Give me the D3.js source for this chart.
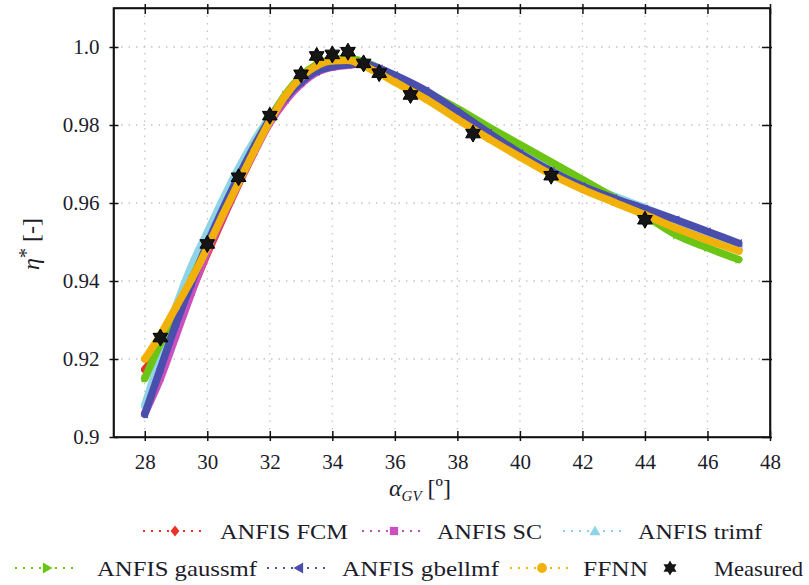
<!DOCTYPE html>
<html lang="en">
<head>
<meta charset="UTF-8">
<title>eta vs alpha</title>
<style>
  body { margin: 0; background: #fff; }
  svg text { font-family: "Liberation Serif", "Times New Roman", Times, "DejaVu Serif", serif; fill: #1c1c2a; }
</style>
</head>
<body>
<script src="https://cdn.jsdelivr.net/npm/d3@7"></script>
<script>
// guide vane angle [deg] where the model curves are read
var alpha = [28, 28.5, 29, 29.5, 30, 30.5, 31, 31.5, 32, 32.5, 33, 33.5, 34, 34.5, 35, 35.5, 36, 37, 38, 39, 40, 41, 42, 43, 44, 45, 46, 47];

// model predictions
var anfisFCM = [0.9173, 0.9225, 0.9295, 0.9375, 0.9470, 0.9560, 0.9648, 0.9730, 0.9810, 0.9872, 0.9918, 0.9950, 0.9965, 0.9968, 0.9960, 0.9945, 0.9925, 0.9882, 0.9832, 0.9778, 0.9725, 0.9678, 0.9638, 0.9605, 0.9575, 0.9545, 0.9510, 0.9480];
var anfisSC = [0.9060, 0.9150, 0.9260, 0.9370, 0.9475, 0.9565, 0.9650, 0.9730, 0.9805, 0.9862, 0.9905, 0.9935, 0.9948, 0.9953, 0.9957, 0.9945, 0.9925, 0.9885, 0.9832, 0.9778, 0.9726, 0.9680, 0.9640, 0.9610, 0.9580, 0.9550, 0.9520, 0.9490];
var anfisTrimf = [0.9081, 0.9210, 0.9335, 0.9440, 0.9525, 0.9610, 0.9690, 0.9760, 0.9820, 0.9875, 0.9920, 0.9952, 0.9967, 0.9970, 0.9962, 0.9945, 0.9922, 0.9878, 0.9830, 0.9780, 0.9732, 0.9688, 0.9650, 0.9618, 0.9588, 0.9555, 0.9525, 0.9492];
var anfisGauss = [0.9150, 0.9240, 0.9318, 0.9405, 0.9490, 0.9580, 0.9665, 0.9745, 0.9815, 0.9878, 0.9925, 0.9955, 0.9968, 0.9970, 0.9962, 0.9945, 0.9925, 0.9885, 0.9842, 0.9795, 0.9750, 0.9705, 0.9660, 0.9615, 0.9568, 0.9518, 0.9485, 0.9455];
var anfisGbell = [0.9058, 0.9175, 0.9290, 0.9395, 0.9495, 0.9585, 0.9668, 0.9745, 0.9815, 0.9870, 0.9910, 0.9938, 0.9950, 0.9955, 0.9957, 0.9945, 0.9928, 0.9888, 0.9835, 0.9780, 0.9728, 0.9682, 0.9643, 0.9612, 0.9585, 0.9557, 0.9527, 0.9497];
var ffnn = [0.9200, 0.9262, 0.9333, 0.9405, 0.9485, 0.9570, 0.9652, 0.9733, 0.9810, 0.9875, 0.9922, 0.9952, 0.9965, 0.9966, 0.9952, 0.9932, 0.9910, 0.9866, 0.9815, 0.9765, 0.9718, 0.9673, 0.9635, 0.9602, 0.9570, 0.9535, 0.9505, 0.9477];

// measured points
var measuredX = [28.5, 30, 31, 32, 33, 33.5, 34, 34.5, 35, 35.5, 36.5, 38.5, 41, 44];
var measuredY = [0.9255, 0.9495, 0.9666, 0.9824, 0.9930, 0.9977, 0.9981, 0.9988, 0.9958, 0.9933, 0.9877, 0.9778, 0.9670, 0.9557];

var seriesNames = ['ANFIS FCM', 'ANFIS SC', 'ANFIS trimf', 'ANFIS gaussmf', 'ANFIS gbellmf', 'FFNN', 'Measured'];
var seriesValues = [anfisFCM, anfisSC, anfisTrimf, anfisGauss, anfisGbell, ffnn];

var xTicks = [28, 30, 32, 34, 36, 38, 40, 42, 44, 46, 48];
var yTicks = [0.9, 0.92, 0.94, 0.96, 0.98, 1.0];
var yTickLabels = ['0.9', '0.92', '0.94', '0.96', '0.98', '1.0'];

// styles
var colors = ['#e8322a', '#cc4fc0', '#8fd3e6', '#6cc514', '#4a4fae', '#f2b10a'];
var shapes = ['diamond', 'square', 'triUp', 'triRight', 'triLeft', 'circle'];

// legend layout: row y, line start, text start, text width
var legendLayout = [
    { y: 531, lx: 143, tx: 220, w: 128 },
    { y: 531, lx: 362, tx: 437, w: 105 },
    { y: 531, lx: 563, tx: 638, w: 124 },
    { y: 568, lx: 15, tx: 97, w: 160 },
    { y: 568, lx: 267, tx: 342, w: 157 },
    { y: 568, lx: 510, tx: 583, w: 65 },
    { y: 568, lx: 660, tx: 714, w: 89 }
];

var W = 809, H = 585;
var plot = { left: 113.5, right: 770, top: 8, bottom: 437 };

var svg = d3.select('body').append('svg').attr('width', W).attr('height', H);

var x = d3.scaleLinear().domain([27, 48]).range([plot.left, plot.right]);
var y = d3.scaleLinear().domain([0.9, 1.01]).range([plot.bottom, plot.top]);

// marker path at origin
function markerPath(shape, s) {
    if (shape === 'diamond') return 'M0,' + (-s) + 'L' + s * 0.8 + ',0L0,' + s + 'L' + (-s * 0.8) + ',0Z';
    if (shape === 'square') return 'M' + (-s * 0.75) + ',' + (-s * 0.75) + 'h' + s * 1.5 + 'v' + s * 1.5 + 'h' + (-s * 1.5) + 'Z';
    if (shape === 'triUp') return 'M0,' + (-s) + 'L' + s + ',' + s * 0.75 + 'L' + (-s) + ',' + s * 0.75 + 'Z';
    if (shape === 'triRight') return 'M' + s + ',0L' + (-s * 0.75) + ',' + (-s) + 'L' + (-s * 0.75) + ',' + s + 'Z';
    if (shape === 'triLeft') return 'M' + (-s) + ',0L' + s * 0.75 + ',' + (-s) + 'L' + s * 0.75 + ',' + s + 'Z';
    return d3.symbol().type(d3.symbolCircle).size(Math.PI * s * s * 0.8)();
}
// six pointed star
function starPath(r) {
    var pts = [];
    for (var i = 0; i < 12; i++) {
        var a = -Math.PI / 2 + i * Math.PI / 6;
        var rr = i % 2 === 0 ? r : r / Math.sqrt(3);
        pts.push([rr * Math.cos(a), rr * Math.sin(a)]);
    }
    return 'M' + pts.map(function (p) { return p[0].toFixed(2) + ',' + p[1].toFixed(2); }).join('L') + 'Z';
}

// grid
var grid = svg.append('g').attr('stroke', '#c4c4c4').attr('stroke-width', 1.3).attr('stroke-dasharray', '1.5,6');
grid.selectAll('.gx').data(xTicks.slice(0, -1)).enter().append('line')
    .attr('x1', function (d) { return x(d); }).attr('x2', function (d) { return x(d); })
    .attr('y1', plot.top).attr('y2', plot.bottom);
grid.selectAll('.gy').data(yTicks.slice(1)).enter().append('line')
    .attr('y1', function (d) { return y(d); }).attr('y2', function (d) { return y(d); })
    .attr('x1', plot.left).attr('x2', plot.right);

// model curves
var line = d3.line()
    .x(function (d) { return x(d[0]); })
    .y(function (d) { return y(d[1]); })
    .curve(d3.curveMonotoneX);

seriesValues.forEach(function (vals, i) {
    var pts = alpha.map(function (a, j) { return [a, vals[j]]; });
    var g = svg.append('g');
    g.append('path').datum(pts).attr('d', line)
        .attr('fill', 'none').attr('stroke', colors[i]).attr('stroke-width', 7.5)
        .attr('stroke-linejoin', 'round').attr('stroke-linecap', 'round');
    g.selectAll('path.m').data(pts).enter().append('path').attr('class', 'm')
        .attr('d', markerPath(shapes[i], 4.2))
        .attr('transform', function (d) { return 'translate(' + x(d[0]) + ',' + y(d[1]) + ')'; })
        .attr('fill', colors[i]);
});

// measured stars
svg.append('g').selectAll('path').data(measuredX).enter().append('path')
    .attr('d', starPath(8.5))
    .attr('transform', function (d, i) { return 'translate(' + x(d) + ',' + y(measuredY[i]) + ')'; })
    .attr('fill', '#151515').attr('stroke', '#000').attr('stroke-width', 1);

// axes
var axBottom = svg.append('g').attr('transform', 'translate(0,' + plot.bottom + ')')
    .call(d3.axisBottom(x).tickValues(xTicks).tickFormat(d3.format('d')).tickSizeInner(4).tickSizeOuter(0).tickPadding(13));
var axTop = svg.append('g').attr('transform', 'translate(0,' + plot.top + ')')
    .call(d3.axisTop(x).tickValues(xTicks).tickFormat('').tickSizeInner(4).tickSizeOuter(0));
var axLeft = svg.append('g').attr('transform', 'translate(' + plot.left + ',0)')
    .call(d3.axisLeft(y).tickValues(yTicks).tickFormat(function (d, i) { return yTickLabels[i]; }).tickSizeInner(4).tickSizeOuter(0).tickPadding(10));
var axRight = svg.append('g').attr('transform', 'translate(' + plot.right + ',0)')
    .call(d3.axisRight(y).tickValues(yTicks).tickFormat('').tickSizeInner(2).tickSizeOuter(0));

// ticks cross the frame
axBottom.selectAll('.tick line').attr('y1', -6);
axTop.selectAll('.tick line').attr('y1', 6);
axLeft.selectAll('.tick line').attr('x1', 5);
axRight.selectAll('.tick line').attr('x1', -8);

[axBottom, axTop, axLeft, axRight].forEach(function (ax) {
    ax.attr('font-family', null);
    ax.select('.domain').attr('stroke', '#111').attr('stroke-width', 1.6);
    ax.selectAll('.tick line').attr('stroke', '#111').attr('stroke-width', 1.5);
    ax.selectAll('.tick text').attr('font-size', 21).attr('fill', '#1c1c2a');
});
// full frame lines
svg.append('rect').attr('x', plot.left).attr('y', plot.top)
    .attr('width', plot.right - plot.left).attr('height', plot.bottom - plot.top)
    .attr('fill', 'none').attr('stroke', '#111').attr('stroke-width', 1.6);

// axis titles
var xt = svg.append('text').attr('x', 420).attr('y', 496).attr('text-anchor', 'middle').attr('font-size', 24);
xt.append('tspan').attr('font-style', 'italic').text('α');
xt.append('tspan').attr('font-style', 'italic').attr('font-size', 15).attr('dy', 5).text('GV');
xt.append('tspan').attr('dy', -5).text(' [º]');

var yt = svg.append('text').attr('transform', 'translate(39,244) rotate(-90)').attr('text-anchor', 'middle').attr('font-size', 24);
yt.append('tspan').attr('font-style', 'italic').text('η');
yt.append('tspan').attr('dy', -6).attr('font-size', 20).text('*');
yt.append('tspan').attr('dy', 6).text(' [-]');

// legend
legendLayout.forEach(function (L, k) {
    var g = svg.append('g');
    if (k < 6) {
        g.append('line').attr('x1', L.lx).attr('x2', L.lx + 60).attr('y1', L.y).attr('y2', L.y)
            .attr('stroke', colors[k]).attr('stroke-width', 2).attr('stroke-dasharray', '2,6');
        g.append('path').attr('d', markerPath(shapes[k], 5.5))
            .attr('transform', 'translate(' + (L.lx + 32) + ',' + L.y + ')').attr('fill', colors[k]);
    } else {
        g.append('path').attr('d', starPath(7.5))
            .attr('transform', 'translate(' + (L.lx + 10) + ',' + L.y + ')').attr('fill', '#151515');
    }
    g.append('text').attr('x', L.tx).attr('y', L.y + 8).attr('font-size', 22)
        .attr('textLength', L.w).attr('lengthAdjust', 'spacingAndGlyphs')
        .text(seriesNames[k]);
});
</script>
</body>
</html>
